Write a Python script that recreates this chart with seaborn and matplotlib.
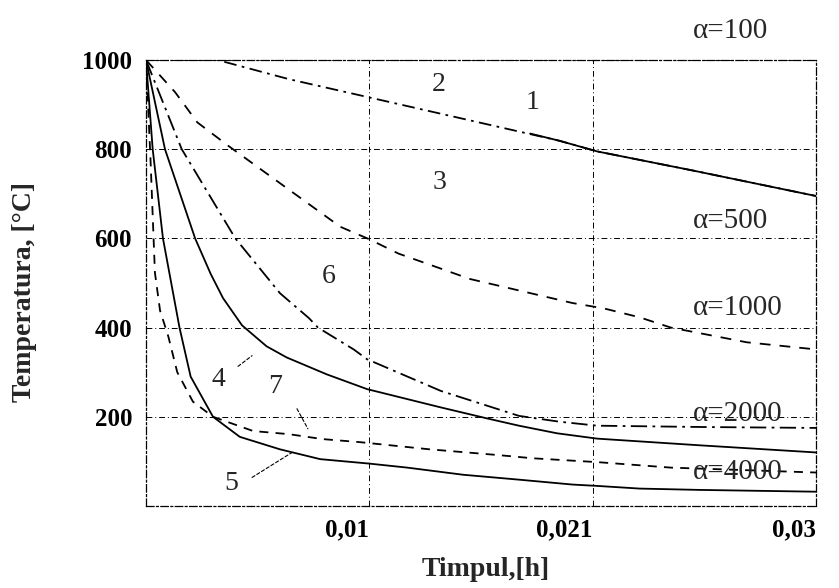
import matplotlib
matplotlib.use("Agg")
import matplotlib.pyplot as plt
import pandas as pd
import seaborn as sns

# Cooling curves: time [h] and temperature [°C]
t1 = [0.0172, 0.0185, 0.0202, 0.0245, 0.030]
T1 = [835, 819, 795, 752, 695]

t2 = [0, 0.0032, 0.0064, 0.010, 0.0185, 0.0202, 0.0245, 0.030]
T2 = [1000, 1000, 957, 916, 819, 795, 752, 695]

t3 = [0, 0.0013, 0.0023, 0.0037, 0.0087, 0.010, 0.0113, 0.0131, 0.0145,
      0.0191, 0.0205, 0.0221, 0.0235, 0.0269, 0.030]
T3 = [1000, 928, 860, 807, 626, 598, 566, 534, 509, 455, 443, 423, 400, 367, 351]

t4 = [0, 0.00085, 0.0022, 0.0029, 0.00345, 0.0043, 0.0054, 0.0063, 0.0081,
      0.0099, 0.0132, 0.0153, 0.0167, 0.0184, 0.0202, 0.0248, 0.030]
T4 = [1000, 800, 600, 520, 466, 405, 358, 333, 295, 262, 221, 196, 180, 163,
      151, 136, 120]

t5 = [0, 0.0003, 0.00076, 0.0015, 0.002, 0.003, 0.0042, 0.006, 0.0078, 0.010,
      0.0117, 0.0142, 0.0167, 0.0191, 0.0202, 0.0221, 0.0248, 0.030]
T5 = [1000, 800, 600, 400, 290, 200, 155, 127, 105, 95, 86, 70, 59, 48, 45, 39, 36, 32]

t6 = [0, 0.0016, 0.004, 0.006, 0.0073, 0.0077, 0.0093, 0.0099, 0.0132,
      0.0167, 0.0185, 0.0202, 0.025, 0.030]
T6 = [1000, 800, 600, 477, 421, 400, 351, 329, 258, 202, 189, 180, 177, 175]

t7 = [0, 0.0002, 0.0004, 0.00063, 0.001, 0.0014, 0.0021, 0.003, 0.0048,
      0.0064, 0.0079, 0.0096, 0.0127, 0.0158, 0.0173, 0.0203, 0.0235, 0.030]
T7 = [1000, 780, 523, 438, 380, 300, 234, 200, 168, 161, 150, 143, 127, 114,
      107, 98, 86, 75]

# Curve numbers and where they are written
curve_ids = ["1", "2", "3", "4", "5", "6", "7"]
id_t = [0.01733, 0.01312, 0.01312, 0.00322, 0.0038, 0.0082, 0.00578]
id_T = [904, 945, 725, 284, 50, 515, 269]

# Leader lines from some numbers to their curves
lead_from_t = [0.00412, 0.00676, 0.00475]
lead_from_T = [313, 218, 64]
lead_to_t = [0.00475, 0.00725, 0.00654]
lead_to_T = [337, 173, 120]

# Heat transfer coefficient labels
alpha_labels = ["α=100", "α=500", "α=1000", "α=2000", "α=4000"]
alpha_t = [0.0245, 0.0245, 0.0245, 0.0245, 0.0245]
alpha_T = [1066, 638, 445, 207, 77]

x_ticks = [0.01, 0.02, 0.03]
x_tick_labels = ["0,01", "0,021", "0,03"]
y_ticks = [200, 400, 600, 800, 1000]
y_tick_labels = ["200", "400", "600", "800", "1000"]

curves = {
    "1": (t1, T1), "2": (t2, T2), "3": (t3, T3), "4": (t4, T4),
    "5": (t5, T5), "6": (t6, T6), "7": (t7, T7),
}
frames = [pd.DataFrame({"t": t, "T": T, "curve": k}) for k, (t, T) in curves.items()]
df = pd.concat(frames, ignore_index=True)

line_styles = {
    "1": "-",
    "2": (0, (7, 3, 1.5, 3)),
    "3": (0, (6, 5)),
    "4": "-",
    "5": "-",
    "6": (0, (9, 3, 1.5, 3)),
    "7": (0, (5, 4)),
}

sns.set_style("white")
plt.rcParams["font.family"] = ["Liberation Serif", "DejaVu Serif"]

fig, ax = plt.subplots(figsize=(8.39, 5.88), dpi=100)
fig.subplots_adjust(left=0.174, right=0.9726, top=0.898, bottom=0.1395)

for key in curve_ids:
    sub = df[df["curve"] == key]
    sns.lineplot(data=sub, x="t", y="T", ax=ax, color="black", lw=1.3,
                 linestyle=line_styles[key], sort=False, estimator=None)

ax.set_xlim(0, 0.03)
ax.set_ylim(0, 1000)

# Dash-dot grid and frame
ax.grid(True, color="black", lw=0.7, linestyle=(0, (6, 3, 1, 3)))
for s in ax.spines.values():
    s.set_color("black")
    s.set_linewidth(0.9)
    s.set_linestyle((0, (6, 2, 1.5, 2)))

ax.set_xticks(x_ticks)
ax.set_xticklabels(x_tick_labels, ha="right", fontweight="bold")
ax.set_yticks(y_ticks)
ax.set_yticklabels(y_tick_labels, fontweight="bold")
ax.tick_params(axis="both", direction="in", length=5, width=0.8,
               labelsize=18, colors="black")
ax.tick_params(axis="y", pad=10)
ax.tick_params(axis="x", pad=9)

ax.set_xlabel("Timpul,[h]", fontsize=20, fontweight="bold")
ax.set_ylabel("Temperatura, [°C]", fontsize=20, fontweight="bold")
ax.xaxis.set_label_coords(0.507, -0.115)
ax.yaxis.set_label_coords(-0.163, 0.48)

for lab, x, y in zip(curve_ids, id_t, id_T):
    ax.text(x, y, lab, fontsize=20, ha="center", va="center")

for x0, y0, x1, y1 in zip(lead_from_t, lead_from_T, lead_to_t, lead_to_T):
    ax.annotate("", xy=(x1, y1), xytext=(x0, y0),
                arrowprops=dict(arrowstyle="-", lw=0.8, linestyle=(0, (3, 2)),
                                color="black", shrinkA=0, shrinkB=0))

for lab, x, y in zip(alpha_labels, alpha_t, alpha_T):
    ax.text(x, y, lab, fontsize=21, ha="left", va="center", clip_on=False)

fig.savefig("out.png", dpi=100, facecolor="white")
